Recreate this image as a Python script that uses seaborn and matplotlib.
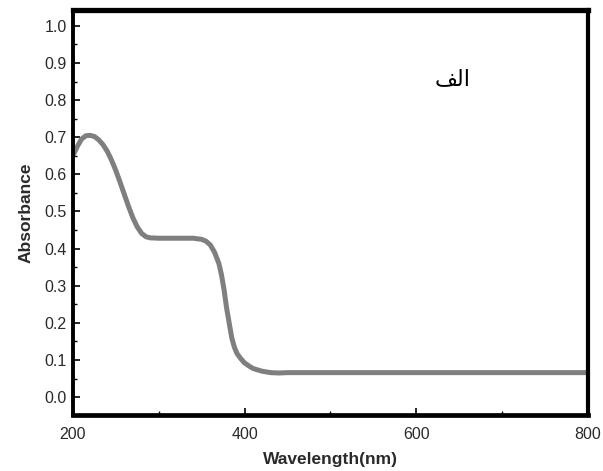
import numpy as np
import pandas as pd
import matplotlib
matplotlib.use("Agg")
import matplotlib.pyplot as plt
from matplotlib.ticker import MultipleLocator
import seaborn as sns

# UV-Vis absorption spectrum
wavelength = [200, 205, 210, 215, 220, 225, 230, 235, 240, 245, 250, 255, 260,
              265, 270, 275, 280, 285, 290, 300, 310, 320, 330, 340, 350, 355,
              360, 365, 370, 373, 376, 379, 382, 385, 388, 391, 395, 400, 405,
              410, 420, 430, 440, 450, 500, 600, 700, 800]
absorbance = [0.650, 0.675, 0.695, 0.704, 0.705, 0.702, 0.693, 0.680, 0.662,
              0.638, 0.610, 0.578, 0.545, 0.512, 0.482, 0.458, 0.441, 0.432,
              0.429, 0.428, 0.428, 0.428, 0.428, 0.428, 0.425, 0.420, 0.410,
              0.390, 0.360, 0.330, 0.290, 0.240, 0.200, 0.160, 0.135, 0.118,
              0.105, 0.092, 0.084, 0.077, 0.070, 0.066, 0.065, 0.066, 0.066,
              0.066, 0.066, 0.066]

x_ticks = [200, 400, 600, 800]
y_ticks = [round(0.1 * i, 1) for i in range(11)]
panel_label = "الف"


def shape_arabic(text):
    """Minimal joining for alef / lam / feh, returned in visual order."""
    forms = {
        "ا": ("\uFE8D", None, None, "\uFE8E"),
        "ل": ("\uFEDD", "\uFEDF", "\uFEE0", "\uFEDE"),
        "ف": ("\uFED1", "\uFED3", "\uFED4", "\uFED2"),
    }
    joins_next = {"ا": False, "ل": True, "ف": True}
    out = []
    n = len(text)
    for i, ch in enumerate(text):
        prev_joins = i > 0 and joins_next.get(text[i - 1], False)
        next_exists = i < n - 1
        iso, ini, med, fin = forms[ch]
        if prev_joins and next_exists and joins_next[ch] and med:
            out.append(med)
        elif prev_joins:
            out.append(fin)
        elif next_exists and joins_next[ch] and ini:
            out.append(ini)
        else:
            out.append(iso)
    return "".join(reversed(out))


df = pd.DataFrame({"Wavelength": wavelength, "Absorbance": absorbance})

sns.set_theme(style="white")
plt.rcParams["font.family"] = ["Liberation Sans", "DejaVu Sans"]

fig = plt.figure(figsize=(6.03, 4.71), dpi=100)
ax = fig.add_axes([0.121, 0.119, 0.854, 0.860])

sns.lineplot(data=df, x="Wavelength", y="Absorbance", ax=ax,
             color="#7f7f7f", linewidth=3.6, solid_capstyle="butt")

ax.set_xlim(200, 800)
ax.set_ylim(-0.048, 1.043)
ax.set_xticks(x_ticks)
ax.set_yticks(y_ticks)
ax.set_yticklabels([f"{v:.1f}" for v in y_ticks])
ax.xaxis.set_minor_locator(MultipleLocator(100))
ax.yaxis.set_minor_locator(MultipleLocator(0.05))

ax.tick_params(axis="both", which="major", direction="in", length=5,
               width=1.2, color="black", labelsize=11.5, labelcolor="#2a2a2a")
ax.tick_params(axis="both", which="minor", direction="in", length=3,
               width=1.0, color="black")
ax.tick_params(axis="x", which="major", pad=9)
ax.tick_params(axis="y", which="major", pad=4.5)
ax.tick_params(left=True, bottom=True, which="both")

for side, lw in {"left": 2.8, "bottom": 3.4, "top": 3.8, "right": 3.0}.items():
    ax.spines[side].set_visible(True)
    ax.spines[side].set_color("black")
    ax.spines[side].set_linewidth(lw)

ax.set_xlabel("Wavelength(nm)", fontsize=12.5, fontweight="bold",
              color="#2a2a2a", labelpad=7)
ax.set_ylabel("Absorbance", fontsize=12.5, fontweight="bold",
              color="#2a2a2a", labelpad=8)

ax.text(0.738, 0.83, shape_arabic(panel_label), transform=ax.transAxes,
        fontsize=16, family=["DejaVu Sans"], color="black",
        ha="center", va="center")

fig.savefig("out.png", dpi=100, facecolor="white")
